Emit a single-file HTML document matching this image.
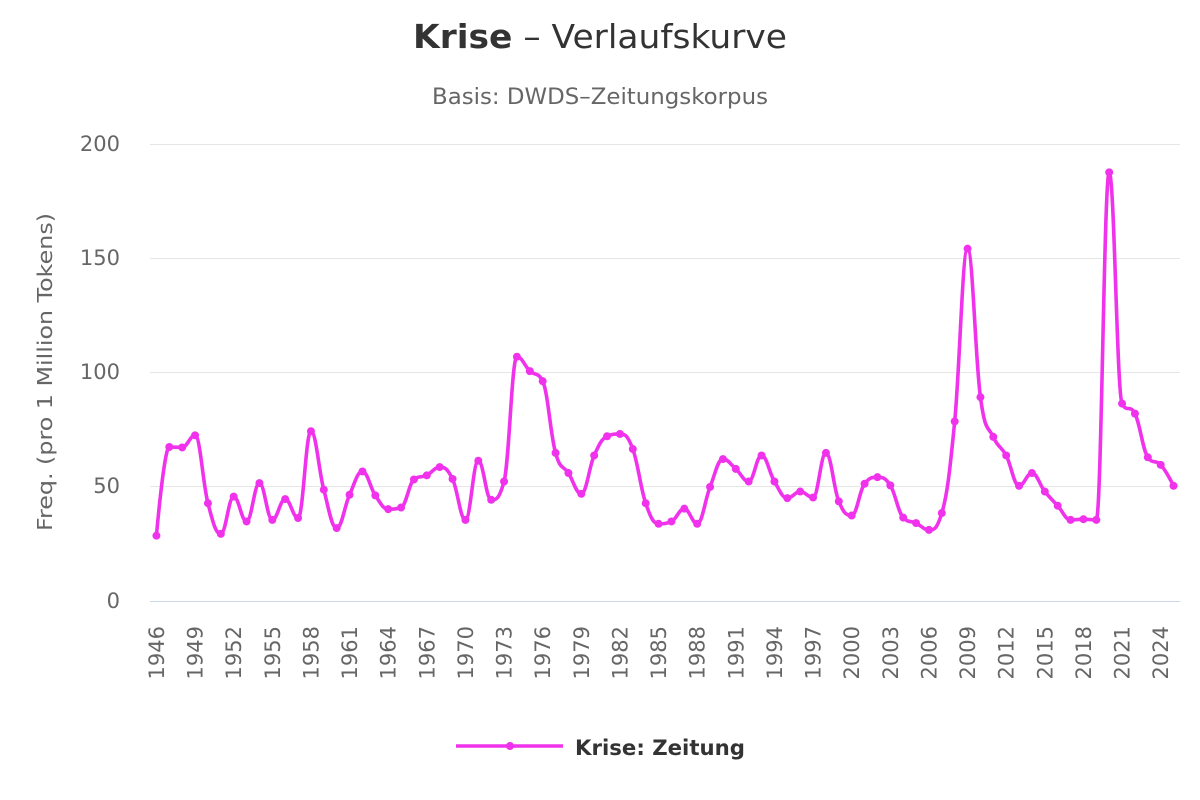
<!DOCTYPE html>
<html><head><meta charset="utf-8">
<style>
html,body{margin:0;padding:0;background:#fff;}
svg{display:block;}
text{font-family:"DejaVu Sans","Liberation Sans",sans-serif;}
</style></head>
<body>
<svg id="c" width="1200" height="800" viewBox="0 0 1200 800" xmlns="http://www.w3.org/2000/svg">
<rect width="1200" height="800" fill="#fff"/>
<g stroke="#e6e6e6" stroke-width="1">
<line x1="150" y1="144.5" x2="1180" y2="144.5"/>
<line x1="150" y1="258.5" x2="1180" y2="258.5"/>
<line x1="150" y1="372.5" x2="1180" y2="372.5"/>
<line x1="150" y1="486.5" x2="1180" y2="486.5"/>
</g>
<line x1="150" y1="601.5" x2="1180" y2="601.5" stroke="#ccd6eb" stroke-width="1"/>
<text x="413" y="48" font-size="33" fill="#333" textLength="374" lengthAdjust="spacingAndGlyphs"><tspan font-weight="bold">Krise</tspan> – Verlaufskurve</text>
<text x="432" y="104" font-size="22" fill="#666" textLength="336" lengthAdjust="spacingAndGlyphs">Basis: DWDS–Zeitungskorpus</text>
<g font-size="21" fill="#666" text-anchor="end">
<text x="120" y="151">200</text>
<text x="120" y="265">150</text>
<text x="120" y="379">100</text>
<text x="120" y="493">50</text>
<text x="120" y="608">0</text>
</g>
<text transform="translate(52,372) rotate(-90)" text-anchor="middle" font-size="20" fill="#666" textLength="318" lengthAdjust="spacingAndGlyphs">Freq. (pro 1 Million Tokens)</text>
<g id="xl" font-size="21" fill="#666" text-anchor="end"></g>
<path id="line" fill="none" stroke="#f032ec" stroke-width="3.6" stroke-linejoin="round" stroke-linecap="round"/>
<g id="mk" fill="#f032ec"></g>
<line x1="456" y1="746" x2="563" y2="746" stroke="#f032ec" stroke-width="3.6"/>
<circle cx="510" cy="746" r="4" fill="#f032ec"/>
<text x="575" y="755" font-size="21" font-weight="bold" fill="#333" textLength="170" lengthAdjust="spacingAndGlyphs">Krise: Zeitung</text>
</svg>
<script>
var v=[28.6,67.4,67.2,72.5,42.8,29.4,45.7,34.8,51.6,35.5,44.6,36.3,74.3,48.7,31.9,46.5,56.7,46.2,40.2,40.9,
53.2,55,58.6,53.4,35.5,61.4,44.3,52.3,106.9,100.6,96.2,64.8,56,46.9,63.7,72.1,73.1,66.5,42.8,33.8,
34.8,40.4,33.8,49.9,62.1,57.8,52.3,63.7,52.3,45,47.9,45.3,64.8,43.6,37.4,51.3,54.2,50.6,36.5,34.1,
31.1,38.5,78.6,154.2,89.2,71.8,63.7,50.4,56,47.9,41.7,35.5,35.8,35.5,187.6,86.4,82,62.9,59.6,50.4];
var NS="http://www.w3.org/2000/svg";
var pts=v.map(function(val,i){return {plotX:150+12.875*(i+0.5),plotY:601-2.285*val};});
function spline(points,point,i){
  var s=1.5,d=2.5,px=point.plotX,py=point.plotY,lp=points[i-1],np=points[i+1];
  var lcx,lcy,rcx,rcy;
  if(lp&&np){
    var lx=lp.plotX,ly=lp.plotY,nx=np.plotX,ny=np.plotY,cor=0;
    lcx=(s*px+lx)/d;lcy=(s*py+ly)/d;rcx=(s*px+nx)/d;rcy=(s*py+ny)/d;
    if(rcx!==lcx){cor=((rcy-lcy)*(rcx-px))/(rcx-lcx)+py-rcy;}
    lcy+=cor;rcy+=cor;
    if(lcy>ly&&lcy>py){lcy=Math.max(ly,py);rcy=2*py-lcy;}
    else if(lcy<ly&&lcy<py){lcy=Math.min(ly,py);rcy=2*py-lcy;}
    if(rcy>ny&&rcy>py){rcy=Math.max(ny,py);lcy=2*py-rcy;}
    else if(rcy<ny&&rcy<py){rcy=Math.min(ny,py);lcy=2*py-rcy;}
    point.rcx=rcx;point.rcy=rcy;
  }
  var a=(lp.rcx!==undefined?lp.rcx:lp.plotX),b=(lp.rcy!==undefined?lp.rcy:lp.plotY);
  var c=(lcx!==undefined?lcx:px),e=(lcy!==undefined?lcy:py);
  return "C"+a.toFixed(2)+" "+b.toFixed(2)+" "+c.toFixed(2)+" "+e.toFixed(2)+" "+px.toFixed(2)+" "+py.toFixed(2);
}
var dstr="M"+pts[0].plotX.toFixed(2)+" "+pts[0].plotY.toFixed(2);
for(var i=1;i<pts.length;i++){dstr+=spline(pts,pts[i],i);}
document.getElementById("line").setAttribute("d",dstr);
var mk=document.getElementById("mk");
pts.forEach(function(p){var c=document.createElementNS(NS,"circle");c.setAttribute("cx",p.plotX);c.setAttribute("cy",p.plotY);c.setAttribute("r","4");mk.appendChild(c);});
var xl=document.getElementById("xl");
for(var y=1946;y<=2024;y+=3){
  var i=y-1946,x=150+12.875*(i+0.5);
  var t=document.createElementNS(NS,"text");
  t.setAttribute("transform","translate("+(x+7.5).toFixed(2)+",626) rotate(-90)");
  t.textContent=String(y);
  xl.appendChild(t);
}
</script>
</body></html>
